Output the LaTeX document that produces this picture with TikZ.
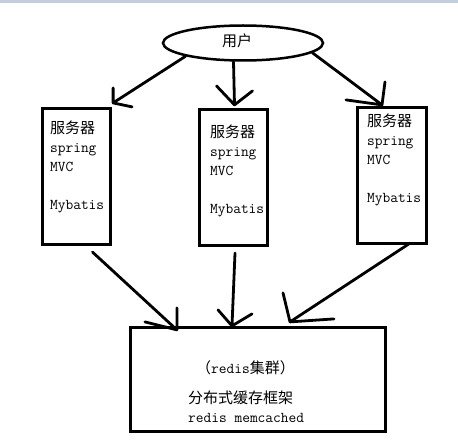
\documentclass[tikz,border=0pt]{standalone}
\usepackage{fontspec}
\newfontfamily\cjk{Noto Sans CJK SC}
\usepackage{tikz}
\usetikzlibrary{shapes.geometric}

\definecolor{bandblue}{RGB}{196,206,222}

\begin{document}
\begin{tikzpicture}[x=1pt, y=-1pt,
		box/.style={draw, line width=3.2pt, inner sep=0pt},
		link/.style={line width=2.8pt, line cap=round, line join=round},
		txt/.style={anchor=north west, inner sep=0pt, align=left, font=\fontsize{15}{19}\selectfont}]
			\useasboundingbox (0,0) rectangle (458,441);
			\fill[bandblue] (0,0) rectangle (458,3);
			
			\node[draw, ellipse, line width=2.5pt, minimum width=160pt, minimum height=35pt, inner sep=0pt] (user) at (243,43) {};
			\node[font=\cjk\fontsize{15}{17}\selectfont] at (237,41) {用户};
			
			\node[box, minimum width=68pt, minimum height=136pt] (s1) at (76.5,176.5) {};
			\node[box, minimum width=68pt, minimum height=136pt] (s2) at (233.5,177.5) {};
			\node[box, minimum width=69pt, minimum height=136pt] (s3) at (392,175.5) {};
			\node[box, minimum width=255pt, minimum height=104pt] (cache) at (258,379.5) {};
			
			\node[txt] at ([shift={(9,14)}]s1.north west) {{\cjk 服务器}\\ \ttfamily spring\\ \ttfamily MVC\\[19pt] \ttfamily Mybatis};
			\node[txt] at ([shift={(12,17)}]s2.north west) {{\cjk 服务器}\\ \ttfamily spring\\ \ttfamily MVC\\[19pt] \ttfamily Mybatis};
			\node[txt] at ([shift={(11,8)}]s3.north west) {{\cjk 服务器}\\ \ttfamily spring\\ \ttfamily MVC\\[19pt] \ttfamily Mybatis};
			\node[txt] at (188,360) {\hspace{8pt}{\cjk （}\texttt{redis}{\cjk 集群）}\\[11pt] {\cjk 分布式缓存框架}\\ \ttfamily redis memcached};
			
			\draw[link] (user.south west) -- ([shift={(1,-4)}]s1.north east) coordinate (h1) -- +(0,-15) (h1) -- +(19,4);
			\draw[link] (user.south -| s2.north) -- ([shift={(1,-3)}]s2.north) coordinate (h2) -- +(-18,-19) (h2) -- +(18,-14);
			\draw[link] (user.-8) -- ([shift={(-10,-1)}]s3.north) coordinate (h3) -- +(3,-23) (h3) -- +(-36,-5);
			
			\draw[link] ([shift={(16,6)}]s1.south) -- ([shift={(48,4)}]cache.north west) coordinate (h4) -- +(0,-22) (h4) -- +(-32,-8);
			\draw[link] ([shift={(1.5,6)}]s2.south) -- ([shift={(-26,0)}]cache.north) coordinate (h5) -- +(-14,-16) (h5) -- +(20,-12);
			\draw[link] ([shift={(-18,-2)}]s3.south east) -- ([shift={(32,-4)}]cache.north) coordinate (h6) -- +(-7,-29) (h6) -- +(44,-3);
		\end{tikzpicture}
\end{document}
